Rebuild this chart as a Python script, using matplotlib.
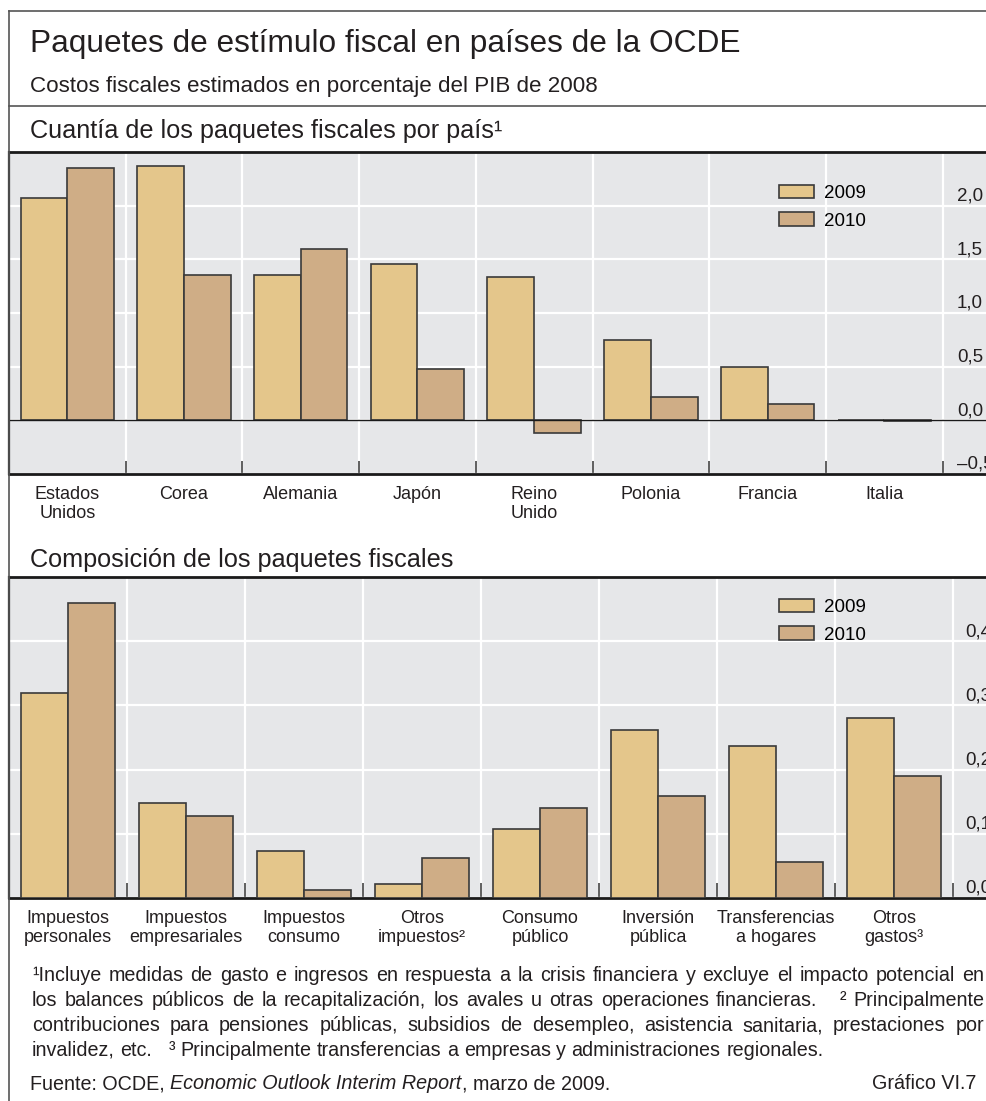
import matplotlib
matplotlib.use('Agg')
import matplotlib.pyplot as plt
from matplotlib.lines import Line2D
import numpy as np

plt.rcParams['font.family'] = ['Liberation Sans', 'DejaVu Sans']

ANCHO, ALTO = 986, 1101

# Datos (% del PIB de 2008)
paises = ['Estados\nUnidos', 'Corea', 'Alemania', 'Japón', 'Reino\nUnido', 'Polonia', 'Francia', 'Italia']
paises_2009 = [2.07, 2.37, 1.35, 1.46, 1.34, 0.75, 0.50, 0.0]
paises_2010 = [2.35, 1.355, 1.60, 0.48, -0.115, 0.22, 0.155, -0.01]
ticks_paises = [-0.5, 0.0, 0.5, 1.0, 1.5, 2.0]

componentes = ['Impuestos\npersonales', 'Impuestos\nempresariales', 'Impuestos\nconsumo', 'Otros\nimpuestos²',
               'Consumo\npúblico', 'Inversión\npública', 'Transferencias\na hogares', 'Otros\ngastos³']
comp_2009 = [0.319, 0.148, 0.073, 0.022, 0.108, 0.262, 0.237, 0.281]
comp_2010 = [0.459, 0.127, 0.013, 0.063, 0.140, 0.159, 0.056, 0.190]
ticks_comp = [0.0, 0.1, 0.2, 0.3, 0.4]

series = ['2009', '2010']

notas = [
    '¹Incluye medidas de gasto e ingresos en respuesta a la crisis financiera y excluye el impacto potencial en',
    'los balances públicos de la recapitalización, los avales u otras operaciones financieras.   ² Principalmente',
    'contribuciones para pensiones públicas, subsidios de desempleo, asistencia sanitaria, prestaciones por',
    'invalidez, etc.   ³ Principalmente transferencias a empresas y administraciones regionales.',
]

COLOR_2009 = '#E4C68B'
COLOR_2010 = '#CFAD86'
FONDO = '#E6E7E9'
BORDE = '#3a3a3a'
TEXTO = '#231f20'


def fx(x):
    return x / ANCHO


def fy(y):
    return 1 - y / ALTO


def dibujar_panel(ax, etiquetas, v2009, v2010, ticks, ylim, ancho_cat, x_etiq, largo_tick):
    ax.set_facecolor(FONDO)
    x = np.arange(len(etiquetas))
    ax.bar(x - 0.2, v2009, 0.4, color=COLOR_2009, edgecolor=BORDE, linewidth=1.2, label=series[0], zorder=3)
    ax.bar(x + 0.2, v2010, 0.4, color=COLOR_2010, edgecolor=BORDE, linewidth=1.2, label=series[1], zorder=3)
    ax.set_xlim(-0.5, -0.5 + (ANCHO - 9) / ancho_cat)
    ax.set_ylim(*ylim)

    # Separadores de categoria como ticks mayores, nombres como menores
    ax.set_xticks(x + 0.5)
    ax.set_xticklabels([])
    ax.set_xticks(x, minor=True)
    ax.set_xticklabels(etiquetas, minor=True, fontsize=13, color=TEXTO, linespacing=1.15)
    ax.tick_params(axis='x', which='major', direction='in', length=largo_tick, width=1.2, color='#444')
    ax.tick_params(axis='x', which='minor', length=0, pad=8.5)

    ax.set_yticks(ticks)
    ax.set_yticklabels([])
    ax.tick_params(axis='y', length=0)
    ax.grid(True, which='major', color='white', linewidth=1.6, zorder=0)
    ax.set_axisbelow(True)

    for v in ticks:
        txt = f'{v:.1f}'.replace('.', ',').replace('-', '–')
        ax.annotate(txt, xy=(x_etiq, v), xytext=(0, 3.7), textcoords='offset points',
                    ha='left', va='baseline', fontsize=13.5, color=TEXTO, annotation_clip=False)

    for lado in ['top', 'bottom']:
        ax.spines[lado].set_linewidth(2.0)
        ax.spines[lado].set_color('#1a1a1a')
    ax.spines['left'].set_linewidth(1.6)
    ax.spines['left'].set_color('#1a1a1a')
    ax.spines['right'].set_visible(False)

    ax.legend(frameon=False, loc='upper left', fontsize=13.5, borderpad=0, borderaxespad=0,
              handlelength=1.87, handleheight=0.75, handletextpad=0.55, labelspacing=0.55,
              bbox_to_anchor=(fx(779), 0), bbox_transform=ax.figure.transFigure)


def linea_justificada(fig, renderer, linea, y, x0, x1, justificar=True, **kw):
    palabras = linea.split(' ')
    textos, anchos = [], []
    for p in palabras:
        if p:
            t = fig.text(fx(x0), fy(y), p, va='baseline', **kw)
            textos.append(t)
            anchos.append(t.get_window_extent(renderer).width)
        else:
            textos.append(None)
            anchos.append(0)
    if justificar:
        hueco = (x1 - x0 - sum(anchos)) / (len(palabras) - 1)
    else:
        espacio = fig.text(0, 0, 'a a', **kw)
        sin = fig.text(0, 0, 'aa', **kw)
        hueco = espacio.get_window_extent(renderer).width - sin.get_window_extent(renderer).width
        espacio.remove()
        sin.remove()
    x = x0
    for t, a in zip(textos, anchos):
        if t is not None:
            t.set_x(fx(x))
        x += a + hueco


fig = plt.figure(figsize=(ANCHO / 100, ALTO / 100), dpi=100)
renderer = fig.canvas.get_renderer()

# Marco general
fig.add_artist(Line2D([fx(9), 1], [fy(11), fy(11)], color='#555', lw=1.2))
fig.add_artist(Line2D([fx(9), fx(9)], [fy(11), 0], color='#555', lw=1.2))
fig.add_artist(Line2D([fx(9), 1], [fy(106), fy(106)], color='#555', lw=1.2))

fig.text(fx(30), fy(52), 'Paquetes de estímulo fiscal en países de la OCDE', fontsize=22.8,
         va='baseline', color=TEXTO)
fig.text(fx(30), fy(92), 'Costos fiscales estimados en porcentaje del PIB de 2008', fontsize=16.1,
         va='baseline', color=TEXTO)
fig.text(fx(30), fy(138), 'Cuantía de los paquetes fiscales por país¹', fontsize=18.2,
         va='baseline', color=TEXTO)
fig.text(fx(30), fy(567), 'Composición de los paquetes fiscales', fontsize=18.2,
         va='baseline', color=TEXTO)

# Panel 1: por pais
ax1 = fig.add_axes([fx(9), fy(474), fx(ANCHO - 9), (474 - 152) / ALTO])
dibujar_panel(ax1, paises, paises_2009, paises_2010, ticks_paises, (-0.5, 2.5), 116.7, 7.623, 9.4)
ax1.axhline(0, color='#1a1a1a', lw=1.0, zorder=4)
ax1.get_legend().set_bbox_to_anchor((fx(779), fy(184.5)), transform=fig.transFigure)

# Panel 2: composicion
ax2 = fig.add_axes([fx(9), fy(898), fx(ANCHO - 9), (898 - 577) / ALTO])
dibujar_panel(ax2, componentes, comp_2009, comp_2010, ticks_comp, (0, 0.5), 118, 7.602, 10.5)
ax2.get_legend().set_bbox_to_anchor((fx(779), fy(598.5)), transform=fig.transFigure)

# Notas al pie
for i, nota in enumerate(notas):
    linea_justificada(fig, renderer, nota, 981 + i * 25, 32, 984, justificar=(i < 3),
                      fontsize=14.2, color=TEXTO)

# Fuente
x = 30
for trozo, estilo in [('Fuente: OCDE, ', 'normal'), ('Economic Outlook Interim Report', 'italic'),
                      (', marzo de 2009.', 'normal')]:
    t = fig.text(fx(x), fy(1089), trozo, fontsize=14.2, style=estilo, va='baseline', color=TEXTO)
    x += t.get_window_extent(renderer).width
fig.text(fx(976), fy(1089), 'Gráfico VI.7', fontsize=14.2, ha='right', va='baseline', color=TEXTO)

fig.savefig('out.png', dpi=100)
